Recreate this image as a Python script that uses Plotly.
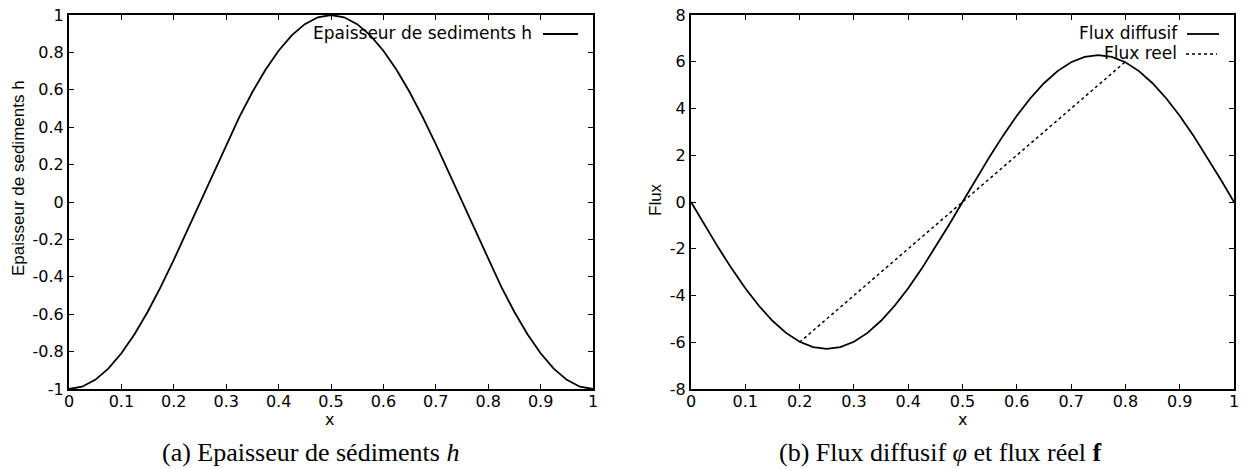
import plotly.graph_objects as go

# ---- data ----
x_vals = [0, 0.025, 0.05, 0.075, 0.1, 0.125, 0.15, 0.175, 0.2, 0.225, 0.25,
          0.275, 0.3, 0.325, 0.35, 0.375, 0.4, 0.425, 0.45, 0.475, 0.5,
          0.525, 0.55, 0.575, 0.6, 0.625, 0.65, 0.675, 0.7, 0.725, 0.75,
          0.775, 0.8, 0.825, 0.85, 0.875, 0.9, 0.925, 0.95, 0.975, 1.0]
h_vals = [-1, -0.988, -0.951, -0.891, -0.809, -0.707, -0.588, -0.454, -0.309, -0.156, 0,
          0.156, 0.309, 0.454, 0.588, 0.707, 0.809, 0.891, 0.951, 0.988, 1,
          0.988, 0.951, 0.891, 0.809, 0.707, 0.588, 0.454, 0.309, 0.156, 0,
          -0.156, -0.309, -0.454, -0.588, -0.707, -0.809, -0.891, -0.951, -0.988, -1]
flux_diff = [0, -0.98, -1.94, -2.85, -3.69, -4.44, -5.08, -5.60, -5.98, -6.21, -6.28,
             -6.21, -5.98, -5.60, -5.08, -4.44, -3.69, -2.85, -1.94, -0.98, 0,
             0.98, 1.94, 2.85, 3.69, 4.44, 5.08, 5.60, 5.98, 6.21, 6.28,
             6.21, 5.98, 5.60, 5.08, 4.44, 3.69, 2.85, 1.94, 0.98, 0]
x_reel = [0.2, 0.5, 0.8]
flux_reel = [-6.0, 0.0, 6.0]

xticks = [0, 0.1, 0.2, 0.3, 0.4, 0.5, 0.6, 0.7, 0.8, 0.9, 1]
xtick_text = ["0", "0.1", "0.2", "0.3", "0.4", "0.5", "0.6", "0.7", "0.8", "0.9", "1"]
hticks = [-1, -0.8, -0.6, -0.4, -0.2, 0, 0.2, 0.4, 0.6, 0.8, 1]
htick_text = ["-1", "-0.8", "-0.6", "-0.4", "-0.2", "0", "0.2", "0.4", "0.6", "0.8", "1"]
fticks = [-8, -6, -4, -2, 0, 2, 4, 6, 8]
ftick_text = ["-8", "-6", "-4", "-2", "0", "2", "4", "6", "8"]

W, H = 1246, 469
SANS = "DejaVu Sans, Liberation Sans, sans-serif"
SANS_V = "Liberation Sans, Arial, sans-serif"
SERIF = "Liberation Serif, Times New Roman, serif"

def px(x):
    return x / W

def py(y):
    return 1 - y / H

fig = go.Figure()
fig.add_trace(go.Scatter(x=x_vals, y=h_vals, mode="lines", line=dict(color="black", width=1.8),
                         xaxis="x", yaxis="y", showlegend=False))
fig.add_trace(go.Scatter(x=x_vals, y=flux_diff, mode="lines", line=dict(color="black", width=1.8),
                         xaxis="x2", yaxis="y2", showlegend=False))
fig.add_trace(go.Scatter(x=x_reel, y=flux_reel, mode="lines", line=dict(color="black", width=1.5, dash="dot"),
                         xaxis="x2", yaxis="y2", showlegend=False))

ax_common = dict(showgrid=False, zeroline=False, showline=True, linecolor="black", linewidth=2,
                 mirror="allticks", ticks="inside", ticklen=5, tickwidth=1, tickcolor="black",
                 automargin=False,
                 tickfont=dict(family=SANS, size=16, color="black"))

dom_y = [py(389), py(15)]
fig.update_layout(
    width=W, height=H, margin=dict(l=0, r=0, t=0, b=0, autoexpand=False),
    plot_bgcolor="white", paper_bgcolor="white",
    xaxis=dict(domain=[px(69), px(593)], range=[0, 1], tickvals=xticks, ticktext=xtick_text,
               anchor="y", ticklabelstandoff=-3, **ax_common),
    yaxis=dict(domain=dom_y, range=[-1, 1], tickvals=hticks, ticktext=htick_text,
               anchor="x", **ax_common),
    xaxis2=dict(domain=[px(691), px(1234)], range=[0, 1], tickvals=xticks, ticktext=xtick_text,
                anchor="y2", ticklabelstandoff=-3, **ax_common),
    yaxis2=dict(domain=dom_y, range=[-8, 8], tickvals=fticks, ticktext=ftick_text,
                anchor="x2", **ax_common),
)

def note(x, y, text, family, size, xanchor="center", angle=0):
    return dict(x=px(x), y=py(y), xref="paper", yref="paper", text=text, showarrow=False,
                xanchor=xanchor, yanchor="middle", textangle=angle,
                font=dict(family=family, size=size, color="black"))

ann = [
    note(330, 419, "x", SANS, 16),
    note(962, 419, "x", SANS, 16),
    note(18, 178, "Epaisseur de sediments h", SANS_V, 17, angle=-90),
    note(655, 200, "Flux", SANS_V, 17, angle=-90),
    note(310, 452, "(a) Epaisseur de sédiments <i>h</i>", SERIF, 26),
    note(940, 452, "(b) Flux diffusif <i>φ</i> et flux réel <b>f</b>", SERIF, 26),
    note(534, 33, "Epaisseur de sediments h", SANS, 17, xanchor="right"),
    note(1180, 33, "Flux diffusif", SANS, 17, xanchor="right"),
    note(1179, 53, "Flux reel", SANS, 17, xanchor="right"),
]
fig.update_layout(annotations=ann)

shapes = [
    dict(type="line", xref="paper", yref="paper", x0=px(543), x1=px(578), y0=py(34), y1=py(34),
         line=dict(color="black", width=1.8)),
    dict(type="line", xref="paper", yref="paper", x0=px(1187), x1=px(1219), y0=py(34), y1=py(34),
         line=dict(color="black", width=1.8)),
    dict(type="line", xref="paper", yref="paper", x0=px(1186), x1=px(1217), y0=py(54), y1=py(54),
         line=dict(color="black", width=1.5, dash="dot")),
]
fig.update_layout(shapes=shapes)

fig.write_html("out.html")
